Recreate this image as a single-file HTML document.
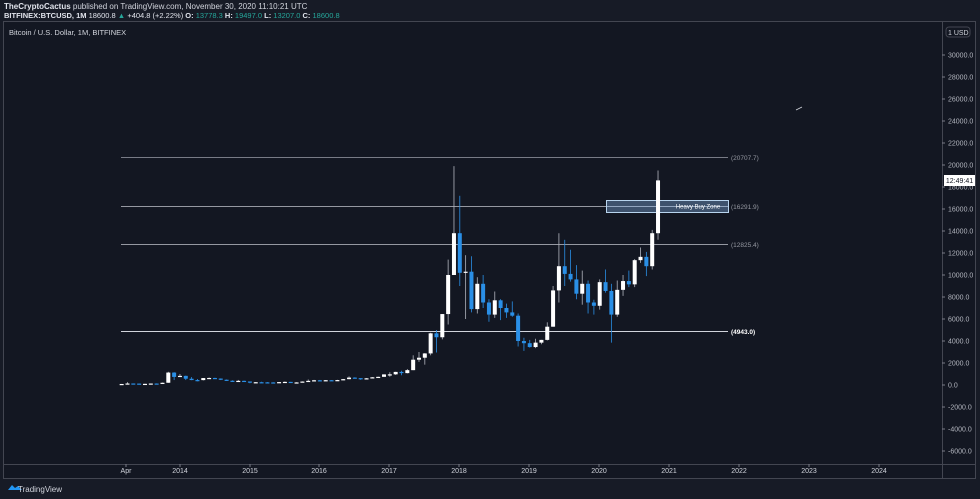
<!DOCTYPE html>
<html><head><meta charset="utf-8"><style>
html,body{margin:0;padding:0;background:#171b26;width:980px;height:499px;overflow:hidden;font-family:"Liberation Sans",sans-serif}
svg{display:block}
</style></head><body>
<svg id="s" width="980" height="499" xmlns="http://www.w3.org/2000/svg" font-family="Liberation Sans, sans-serif">
<rect x="0" y="0" width="980" height="499" fill="#171b26"/>
<text x="4" y="9" font-size="8" fill="#e0e3eb" font-weight="bold">TheCryptoCactus <tspan font-weight="normal" fill="#d1d4dc">published on TradingView.com, November 30, 2020 11:10:21 UTC</tspan></text>
<text x="4" y="18" font-size="7.5" fill="#e0e3eb" font-weight="bold">BITFINEX:BTCUSD, 1M <tspan font-weight="normal">18600.8 </tspan><tspan fill="#26a69a">▲</tspan><tspan font-weight="normal"> +404.8 (+2.22%) </tspan>O: <tspan fill="#26a69a" font-weight="normal">13778.3</tspan> H: <tspan fill="#26a69a" font-weight="normal">19497.0</tspan> L: <tspan fill="#26a69a" font-weight="normal">13207.0</tspan> C: <tspan fill="#26a69a" font-weight="normal">18600.8</tspan></text>
<rect x="3.5" y="21.5" width="972" height="457" fill="#131722" stroke="#434651"/>
<line x1="942.5" y1="22" x2="942.5" y2="478" stroke="#434651"/>
<line x1="4" y1="464.5" x2="975" y2="464.5" stroke="#434651"/>
<text x="9" y="35" font-size="7.5" fill="#d1d4dc">Bitcoin / U.S. Dollar, 1M, BITFINEX</text>
<rect x="946" y="27" width="24" height="10" rx="3" fill="none" stroke="#434651"/>
<text x="948" y="35" font-size="7" fill="#d1d4dc">1  USD</text>
<g id="g"></g>
<line x1="796" y1="110" x2="802" y2="107" stroke="#d1d4dc" stroke-width="0.8"/>
<path d="M8 490 l4 -5 l3 3 l3 -2 l4 4 z" fill="#2196f3"/>
<text x="18" y="492" font-size="8" fill="#d1d4dc">TradingView</text>
</svg>
<script>
var g=document.getElementById('g'),h='';
function y(v){return 385-v*0.011;}
for(var v=-6000;v<=30000;v+=2000){var yy=y(v);h+='<line x1="942" y1="'+yy+'" x2="945" y2="'+yy+'" stroke="#787b86"/><text x="948" y="'+(yy+2.5)+'" font-size="7" fill="#b2b5be">'+v.toFixed(1)+'</text>';}
var tl=[['Apr',126],['2014',180],['2015',250],['2016',319],['2017',389],['2018',459],['2019',529],['2020',599],['2021',669],['2022',739],['2023',809],['2024',879]];
tl.forEach(function(t){h+='<line x1="'+t[1]+'" y1="464" x2="'+t[1]+'" y2="467" stroke="#787b86"/><text x="'+t[1]+'" y="473" font-size="7" fill="#d1d4dc" text-anchor="middle">'+t[0]+'</text>';});
var lines=[[20707.7,'#787b86','(20707.7)'],[16291.9,'#9598a1','(16291.9)'],[12825.4,'#9598a1','(12825.4)'],[4943,'#d1d4dc','(4943.0)']];
lines.forEach(function(l){var yy=Math.round(y(l[0]))+0.5;h+='<line x1="121" y1="'+yy+'" x2="728" y2="'+yy+'" stroke="'+l[1]+'" stroke-width="1"/><text x="731" y="'+(yy+2.5)+'" font-size="6.5" fill="'+(l[0]==4943?'#fff':'#9598a1')+'" font-weight="'+(l[0]==4943?'bold':'normal')+'">'+l[2]+'</text>';});
h+='<rect x="606.5" y="200.5" width="122" height="12" fill="rgba(144,191,249,0.35)" stroke="#b8d4ee"/><text x="698" y="208.5" font-size="6" fill="#fff" text-anchor="middle">Heavy Buy Zone</text>';
var d=[[34,95,33,93],[93,266,50,139],[139,140,100,129],[129,130,90,97],[97,110,65,106],[106,135,100,135],[135,145,120,133],[133,220,110,204],[204,1200,200,1130],[1130,1165,450,732],
[732,1000,730,830],[830,850,450,570],[570,720,440,450],[450,540,340,445],[445,630,420,630],[630,680,550,640],[640,660,570,585],[585,600,450,480],[480,500,370,387],[387,420,280,340],[340,460,320,378],[378,395,300,320],
[320,320,160,217],[217,265,210,254],[254,300,240,244],[244,260,215,236],[236,248,225,230],[230,270,220,263],[263,315,255,284],[284,285,200,230],[230,245,225,236],[236,330,235,314],[314,500,300,377],[377,470,350,430],
[430,460,350,368],[368,445,365,437],[437,440,400,416],[416,470,410,448],[448,550,440,531],[531,780,520,673],[673,700,600,624],[624,620,470,575],[575,620,570,609],[609,720,600,700],[700,760,680,742],[742,980,740,963],
[963,1160,750,970],[970,1200,920,1190],[1190,1300,890,1080],[1080,1450,1060,1350],[1350,2700,1350,2300],[2300,3000,2100,2480],[2480,2900,1850,2870],[2870,4750,2700,4700],[4700,5000,2950,4340],[4340,6450,4150,6450],[6450,11400,5500,10000],[10000,19900,10000,13800],
[13800,17200,9000,10200],[10200,11800,6000,10300],[10300,11700,6600,6900],[6900,9800,6500,9200],[9200,10000,7000,7500],[7500,7800,5750,6400],[6400,8500,6100,7700],[7700,7800,5900,7000],[7000,7400,6100,6600],[6600,7600,6200,6300],[6300,6500,3500,4000],[4000,4300,3100,3800],
[3800,4100,3400,3450],[3450,4200,3350,3850],[3850,4100,3700,4100],[4100,5700,4050,5300],[5300,9000,5300,8600],[8600,13800,7500,10800],[10800,13200,9000,10100],[10100,12300,9400,9600],[9600,10900,7800,8300],[8300,10400,7300,9200],[9200,9500,6500,7500],[7500,7750,6400,7200],
[7200,9600,6850,9350],[9350,10500,8400,8550],[8550,9200,3850,6400],[6400,9500,6200,8650],[8650,10000,8100,9450],[9450,10400,8900,9150],[9150,11450,8900,11350],[11350,12500,11100,11650],[11650,12100,9900,10800],[10800,14100,10500,13800],[13800,19497,13207,18600]];
d.forEach(function(c,i){var x=110+(i+2)*5.83;var up=c[3]>=c[0];var col=up?'#ffffff':'#2a8fe6';var wc=up?'#b2b5be':'#2a8fe6';
var t=y(Math.max(c[0],c[3])),b=y(Math.min(c[0],c[3]));if(b-t<1.2)b=t+1.2;
h+='<line x1="'+x+'" y1="'+y(c[1])+'" x2="'+x+'" y2="'+y(c[2])+'" stroke="'+wc+'" stroke-width="0.8"/><rect x="'+(x-2)+'" y="'+t+'" width="4" height="'+(b-t)+'" fill="'+col+'"/>';});
h+='<rect x="944" y="175" width="31" height="11" fill="#fff"/><text x="959.5" y="183" font-size="7" fill="#131722" text-anchor="middle">12:49:41</text>';
g.innerHTML=h;
</script>
</body></html>
